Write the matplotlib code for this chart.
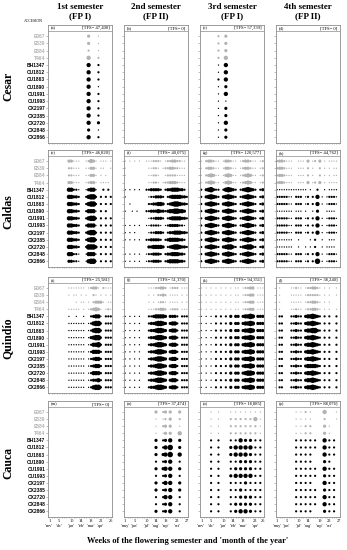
import matplotlib.pyplot as plt
from matplotlib.ticker import MultipleLocator

accessions = ['E067', 'E539', 'E584', 'T464', 'BH1347', 'CU1812', 'CU1863', 'CU1890',
              'CU1991', 'CU1993', 'CX2197', 'CX2385', 'CX2720', 'CX2848', 'CX2866']
n_grey = 4  # first four accessions drawn in grey

sites = ['Cesar', 'Caldas', 'Quindío', 'Cauca']
col_titles = ['1st semester\n(FP I)', '2nd semester\n(FP II)',
              '3rd semester\n(FP I)', '4th semester\n(FP II)']
letters = 'abcdefghijklmnop'
tfs = ['47,400', '0', '57,339', '0',
       '46,820', '40,075', '120,577', '44,762',
       '25,581', '51,370', '94,351', '38,240',
       '0', '37,474', '18,885', '88,076']
n_weeks = [26, 27, 26, 27]
week_ticks = [[1, 5, 10, 14, 18, 22, 26], [1, 5, 10, 14, 18, 23, 27],
              [1, 5, 10, 14, 18, 23, 26], [1, 5, 10, 14, 19, 23, 27]]
months_fp1 = ["'nov'", "'dic'", "'jan'", "'feb'", "'mar'", "'apr'"]
months_fp2 = ["'may'", "'jun'", "'jul'", "'aug'", "'sep'", "'oct'"]

# flowering per accession (one string per row, one char per week)
# '.' = no flowers, 1..5 = size class of the dot
panel_a = [
    "................3...1.....",
    "................3...1.....",
    "................2...1.....",
    "................4...2.....",
    "................4...2.....",
    "................4...2.....",
    "................4...2.....",
    "................4...1.....",
    "................4...2.....",
    "................4...2.....",
    "................4...2.....",
    "................4...2.....",
    "................4...3.....",
    "................3...1.....",
    "................4...2.....",
]
panel_b = []
panel_c = [
    ".......2..3...............",
    ".......2..3...............",
    ".......2..3...............",
    ".......2..4...............",
    ".......1..4...............",
    ".......1..4...............",
    ".......2..4...............",
    ".......1..3...............",
    ".......1..4...............",
    ".......1..1...............",
    ".......1..3...............",
    ".......1..3...............",
    ".......1..4...............",
    ".......1..3...............",
    ".......1..3...............",
]
panel_d = []
panel_e = [
    "........33111..12431.111.1",
    "........22111..11331.11..1",
    "........22111..11331.1.1..",
    "........33111..12331.1111.",
    "........44221..13441..2.2.",
    "........44332..24552.2.2.2",
    "........44332..24552.2.2.2",
    "........44332..24441.2.2..",
    "........44332..24552.2.2.2",
    "........44332..24441.2.2.2",
    "........44332..24552.2.2.2",
    "........44332..24552.2.2.2",
    "........44332..25553.2.2.2",
    "........44221..14441.2.2.2",
    "........33221..14551.2.2.2",
]
panel_f = [
    "1.1.1.1..1112221.122332211.",
    "1.........11221.1223322111.",
    "1.........11221..122221111.",
    "..........11221.1223332111.",
    "1.1.1.1..2233332.233444332.",
    "1.........1223332.234444332",
    "..1.......2233443.234554332",
    "1..1.1...22333433234455443.",
    "..........1223332.234444332",
    "1.1.1.1..1122221.123333221.",
    "1.1.1.....1223332.233444332",
    "1.1.1.1..2233332.234444332.",
    "..........3344443.234554332",
    "1.1.1.1..1223332.233444332.",
    "1.1.1.1..1223332.234444332.",
]
panel_g = [
    "1.233211.133211.1233211.12",
    "1.233211.133211.1233211.12",
    "1.234311.134311.1234311.12",
    "1.234311.134311.1234311.12",
    "2.345322.245432.2345432.23",
    "2.345432.345432.2345432.23",
    "2.345432.345432.2345432.23",
    "2.345432.345432.2345432.23",
    "2.345432.345432.2345432.23",
    "2.345432.345432.2345432.23",
    "2.345432.345432.2345432.23",
    "2.345432.345432.2345432.23",
    "2.345432.345532.2345532.23",
    "2.345432.345432.2345432.23",
    "2.345432.345432.2345432.23",
]
panel_h = [
    "2332111..111.3.12.3.1.1111.",
    "2332111..111.2.1..2.1.1.11.",
    "2332111..111.2.1..2.1.1.11.",
    "2332111..111.3.12.3.1.1111.",
    "1111111111111.1..2..1.1111.",
    "2222211.222.12.2.4.1.12221.",
    "2222211.222.12.2.4.1.12221.",
    "1111111.111.1..1.3...1111..",
    "2222211.222.12.2.4.1.12221.",
    "2222211.222.12.2.4.1.12221.",
    "2222211.222.12.2.4.1.12221.",
    "1111111..1....1.2..1..111..",
    "1111111..1..1.1.2..1.1111..",
    "2222211.222.12.2.4.1.12221.",
    "2222211.222.12.2.5.1.12221.",
]
panel_i = [
    "........1111111.12331.2111",
    "........1.11.1.1..21.1.1.1",
    "...........1.11.1.23331.11",
    "........11111.1.123431.121",
    "........1..1..1..23441.222",
    "........1111111.124552.222",
    "........1111111.124552.222",
    "........1111111.134552.222",
    "........1111111.124452.222",
    "........1111111.124442.222",
    "........1111111.123442.222",
    "........1111111.123442.222",
    "........1111111.124442.222",
    "........1111111.123342.222",
    "........1111111.124552.222",
]
panel_j = [
    "..........11122332.1222.111",
    "..........1.1.2232.1111.1.1",
    "..........1.1.1221.1111.1.1",
    "..........11122332.1222.111",
    "1.1.1.1...22344443.3332.222",
    "1.1.1.1...23345543.3442.222",
    "1.1.1.1...23345543.3442.222",
    "1.1.1.1...23345543.3442.222",
    "1.1.1.1...23345543.3442.222",
    "1.1.1.1...23345543.3442.222",
    "1.1.1.1...23345543.3442.222",
    "1.1.1.1...23345543.3442.222",
    "1.1.1.1...23345543.3442.222",
    "1.1.1.1...23345543.3442.222",
    "1.1.1.1...23345543.3442.222",
]
panel_k = [
    "1.1.1.1.1.1.1.11.12233.111",
    "1.1.1.1.1.1.1.11.12233.111",
    "1.1.1.1.1.1.1.11.12233.111",
    "1.1.1.1.1.1.1.11.12233.111",
    "1.1.1.2.2.2.3.33.34454.333",
    "1.1.1.2.2.2.3.33.34454.333",
    "1.1.1.2.2.2.3.33.34454.333",
    "1.1.1.2.2.2.3.33.34454.333",
    "1.1.1.2.2.2.3.33.34454.333",
    "1.1.1.2.2.2.3.33.34454.333",
    "1.1.1.2.2.2.3.33.34454.333",
    "1.1.1.2.2.2.3.33.34454.333",
    "1.1.1.2.2.2.3.33.34554.333",
    "1.1.1.2.2.2.3.33.34454.333",
    "1.1.1.2.2.2.3.33.34454.333",
]
panel_l = [
    ".1....11211.1223321.1.1..1.",
    ".1....11111.1222221.1.1..1.",
    ".1....11111.1223321.1.1....",
    ".1....11211.1223321.1.1..1.",
    ".22...22322.3445432.2.2..2.",
    ".22...22322.3445432.2.2..2.",
    ".22...22322.3445532.2.2..2.",
    ".22...22322.3445432.2.2..2.",
    ".22...22322.3445432.2.2..2.",
    ".22...22322.3445432.2.2..2.",
    ".22...22322.3445432.2.2..2.",
    ".22...22322.3444432.2.2..2.",
    ".22...22322.3445432.2.2..2.",
    ".22...22322.3445432.2.2..2.",
    ".22...22322.3445432.2.2..2.",
]
panel_m = []
panel_n = [
    ".............3..23.3...3...",
    ".............1..12.3...2...",
    ".............1..23.3...1...",
    ".............1..13.3...4...",
    ".............3..23.4...3...",
    ".............3..24.5...3...",
    ".............3..34.5...4...",
    ".............2..23.4...2...",
    ".............3..34.4...3...",
    ".............2..23.4...2...",
    ".............3..24.4...3...",
    ".............3..23.4...3...",
    ".............2..24.4...2...",
    ".............2..23.4...2...",
    ".............3..23.4...2...",
]
panel_o = [
    "....1..1....1.1.1.1.1.1.1.",
    "....1..1....2.2.2.2.2.4.1.",
    "....1..1....2.2.2.2.2.2.1.",
    "....1..1....2.2.2.2.2.2.1.",
    "....2..2....2.2.4.3.3.2.2.",
    "....2..2....3.4.4.4.4.2.2.",
    "....2..2....3.4.4.4.3.2.2.",
    "....2..2....2.2.3.3.3.2.2.",
    "....2..2....2.3.3.3.3.2.2.",
    "....2..2....3.4.4.4.4.2.2.",
    "....2..2....2.2.2.3.2.2.2.",
    "....2..2....2.2.3.2.2.2.2.",
    "....2..2....2.2.3.3.3.2.2.",
    "....2..2....2.3.3.3.3.2.2.",
    "....2..2....2.3.4.4.3.2.2.",
]
panel_p = [
    "........1.1.2.1.....4....1.",
    "........1.1.1.1.....2....1.",
    "........1.1.2.2.....3.1....",
    "........1.1.2.2.....3.1....",
    "........2.2.2.2.2...4.2.2..",
    "........2.2.2.2.2...4.2.2..",
    "........2.2.2.2.....4.2.2..",
    "........2.2.2.2.....3.2....",
    "........2.2.2.2.2...4.2.2..",
    "........2.2.2.2.2...3.2.2..",
    "........2.2.2.2.....4.2.2..",
    "........2.2.2.2.2...3.2.2..",
    "........2.2.2.2.2...4.2.2..",
    "........2.2.2.2.2...4.2.2..",
    "........2.2.2.2.....3.2.2..",
]
panels = [panel_a, panel_b, panel_c, panel_d, panel_e, panel_f, panel_g, panel_h,
          panel_i, panel_j, panel_k, panel_l, panel_m, panel_n, panel_o, panel_p]

dot_size = {'1': 0.9, '2': 2.5, '3': 5.3, '4': 9.6, '5': 15.7}
grey = '#b2b2b2'
edge = '#8c8c8c'
serif = 'Liberation Serif'
sans = 'Liberation Sans'

W, H = 347, 550
fig = plt.figure(figsize=(W / 100, H / 100), dpi=100)

col_x = [48, 124, 200, 276]
col_w = 64
row_top = [25, 150, 277, 401]
row_h = [118, 117, 116, 116]

for r in range(4):
    for c in range(4):
        k = r * 4 + c
        ax = fig.add_axes([col_x[c] / W, 1 - (row_top[r] + row_h[r]) / H,
                           col_w / W, row_h[r] / H])
        ax.set_xlim(0.5, n_weeks[c] + 0.5)
        ax.set_ylim(14.8, -1.55)

        xs, ys, ss, cs = [], [], [], []
        for i, line in enumerate(panels[k]):
            for j, ch in enumerate(line):
                if ch != '.':
                    xs.append(j + 1)
                    ys.append(i)
                    ss.append(dot_size[ch])
                    cs.append(grey if i < n_grey else 'black')
        if xs:
            ax.scatter(xs, ys, s=ss, c=cs, linewidths=0)

        # header strip
        ax.axhline(-0.68, color=edge, lw=0.5)
        ax.text(0.05, -1.12, f'({letters[k]})', fontsize=3.3, family=serif,
                transform=ax.get_yaxis_transform(), va='center', ha='left')
        ax.text(0.96, -1.12, f'[TFS= {tfs[k]}]', fontsize=3.3, family=serif,
                transform=ax.get_yaxis_transform(), va='center', ha='right')

        for sp in ax.spines.values():
            sp.set_color(edge)
            sp.set_linewidth(0.6)

        ax.set_yticks(range(len(accessions)))
        ax.tick_params(axis='y', length=1.2, width=0.4, color=edge, pad=0.8)
        if c == 0:
            ax.set_yticklabels(accessions, fontsize=3.5, family=sans, fontweight='bold')
            for i, lab in enumerate(ax.get_yticklabels()):
                lab.set_color(grey if i < n_grey else 'black')
        else:
            ax.set_yticklabels([])

        ax.set_xticks(week_ticks[c])
        ax.xaxis.set_minor_locator(MultipleLocator(1))
        ax.tick_params(axis='x', which='both', length=0.8, width=0.4, color=edge, pad=1)
        if r == 3:
            months = months_fp1 if c in (0, 2) else months_fp2
            labels = [f'{t}\n{months[n]}' if n < len(months) else f'{t}\n '
                      for n, t in enumerate(week_ticks[c])]
            ax.set_xticklabels(labels, fontsize=3.2, family=serif, linespacing=1.1)
        else:
            ax.set_xticklabels([])

# column titles
for c in range(4):
    fig.text((col_x[c] + col_w / 2) / W, 1 - 12 / H, col_titles[c], ha='center', va='center',
             fontsize=6.5, family=serif, fontweight='bold', linespacing=1.2)

# site labels
site_y = [86, 212, 338, 463]
for r in range(4):
    fig.text(8 / W, 1 - site_y[r] / H, sites[r], rotation=90, ha='center', va='center',
             fontsize=8.5, family=serif, fontweight='bold')

fig.text(33 / W, 1 - 21 / H, 'ACCESION', ha='center', va='center', fontsize=2.8, family=serif)
fig.text(188 / W, 1 - 541 / H, "Weeks of the flowering semester and 'month of the year'",
         ha='center', va='center', fontsize=6, family=serif, fontweight='bold')

fig.savefig('out.png', dpi=100)
